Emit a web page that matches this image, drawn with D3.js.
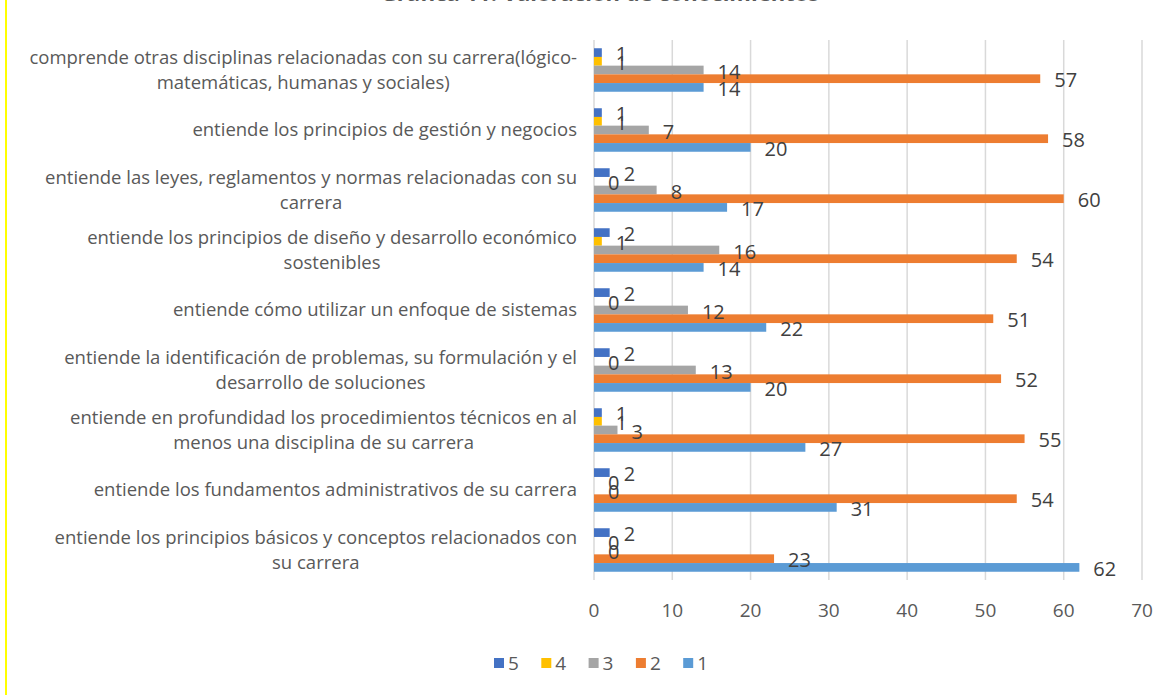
<!DOCTYPE html>
<html>
<head>
<meta charset="utf-8">
<script src="https://cdn.jsdelivr.net/npm/d3@7"></script>
<style>
  body { margin: 0; background: #fff; }
  svg { display: block; font-family: "Open Sans", "Noto Sans", sans-serif; }
</style>
</head>
<body>
<div id="chart"></div>
<script>
// Categories, top to bottom; "\n" marks the wrapped line
const categories = [
    "comprende otras disciplinas relacionadas con su carrera(lógico-\nmatemáticas, humanas y sociales)",
    "entiende los principios de gestión y negocios ",
    "entiende las leyes, reglamentos y normas relacionadas con su\ncarrera",
    "entiende los principios de diseño y desarrollo económico\nsostenibles",
    "entiende cómo utilizar un enfoque de sistemas ",
    "entiende la identificación de problemas, su formulación y el\ndesarrollo de soluciones",
    "entiende en profundidad los procedimientos técnicos en al\nmenos una disciplina de su carrera",
    "entiende los fundamentos administrativos de su carrera ",
    "entiende los principios básicos y conceptos relacionados con\nsu carrera"
];

// Series, in the order drawn inside each group (top to bottom)
const seriesNames = ["5", "4", "3", "2", "1"];
const seriesColors = ["#4472C4", "#FFC000", "#A5A5A5", "#ED7D31", "#5B9BD5"];

const values5 = [1, 1, 2, 2, 2, 2, 1, 2, 2];
const values4 = [1, 1, 0, 1, 0, 0, 1, 0, 0];
const values3 = [14, 7, 8, 16, 12, 13, 3, 0, 0];
const values2 = [57, 58, 60, 54, 51, 52, 55, 54, 23];
const values1 = [14, 20, 17, 14, 22, 20, 27, 31, 62];
const seriesValues = [values5, values4, values3, values2, values1];

const xTicks = [0, 10, 20, 30, 40, 50, 60, 70];
const title = "Gráfica 11. Valoración de conocimientos";

const width = 1173, height = 695;
const plot = { left: 594, right: 1142, top: 40, bottom: 580 };

const svg = d3.select("#chart").append("svg")
    .attr("width", width)
    .attr("height", height);

// yellow frame edge on the left
svg.append("rect")
    .attr("x", 5).attr("y", 0)
    .attr("width", 2).attr("height", height)
    .attr("fill", "#FFFF00");

// title, mostly cut off by the top edge
svg.append("text")
    .attr("x", 600).attr("y", 0.5)
    .attr("text-anchor", "middle")
    .style("font-size", "22px")
    .style("font-weight", "bold")
    .style("fill", "#595959")
    .text(title);

const x = d3.scaleLinear()
    .domain([0, 70])
    .range([plot.left, plot.right]);

const y = d3.scaleBand()
    .domain(d3.range(categories.length))
    .range([plot.top, plot.bottom])
    .paddingInner(0.275)
    .paddingOuter(0.1375);

const ySeries = d3.scaleBand()
    .domain(d3.range(seriesNames.length))
    .range([0, y.bandwidth()]);

// gridlines
svg.append("g")
    .selectAll("line")
    .data(xTicks)
    .join("line")
    .attr("x1", d => x(d)).attr("x2", d => x(d))
    .attr("y1", plot.top).attr("y2", plot.bottom)
    .attr("stroke", "#D9D9D9")
    .attr("stroke-width", 1.5);

// x tick labels
svg.append("g")
    .selectAll("text")
    .data(xTicks)
    .join("text")
    .attr("x", d => x(d))
    .attr("y", 617)
    .attr("text-anchor", "middle")
    .style("font-size", "19px")
    .style("fill", "#595959")
    .text(d => d);

// bars
const groups = svg.append("g")
    .selectAll("g")
    .data(seriesNames)
    .join("g")
    .attr("fill", (d, i) => seriesColors[i]);

groups.each(function (name, si) {
    d3.select(this).selectAll("rect")
        .data(seriesValues[si])
        .join("rect")
        .attr("x", x(0))
        .attr("y", (v, ci) => y(ci) + ySeries(si))
        .attr("width", v => x(v) - x(0))
        .attr("height", ySeries.bandwidth());
});

// data labels
const labels = svg.append("g");
seriesNames.forEach((name, si) => {
    labels.selectAll(null)
        .data(seriesValues[si])
        .join("text")
        .attr("x", v => x(v) + 14)
        .attr("y", (v, ci) => y(ci) + ySeries(si) + ySeries.bandwidth() / 2 + 1.5)
        .attr("dy", "0.35em")
        .style("font-size", "20px")
        .style("fill", "#404040")
        .text(v => v);
});

// category labels: block right-aligned to the axis, lines centred in the block
const labelRight = 577;
const lineHeight = 25;
const catG = svg.append("g")
    .style("font-size", "18.5px")
    .style("fill", "#595959")
    .style("white-space", "pre");

categories.forEach((label, ci) => {
    const lines = label.split("\n");
    const t = catG.append("text").attr("text-anchor", "middle");
    const cy = y(ci) + y.bandwidth() / 2;
    const spans = lines.map((line, li) => t.append("tspan")
        .attr("y", cy + (li - (lines.length - 1) / 2) * lineHeight)
        .attr("dy", "0.35em")
        .text(line));
    const maxW = d3.max(spans, s => s.node().getComputedTextLength());
    spans.forEach(s => s.attr("x", labelRight - maxW / 2));
});

// legend
const legend = svg.append("g")
    .attr("transform", "translate(494, 658)");

legend.selectAll("g")
    .data(seriesNames)
    .join("g")
    .attr("transform", (d, i) => `translate(${i * 47.3}, 0)`)
    .call(g => {
        g.append("rect")
            .attr("width", 10)
            .attr("height", 10)
            .attr("fill", (d, i) => seriesColors[i]);
        g.append("text")
            .attr("x", 14)
            .attr("y", 5)
            .attr("dy", "0.35em")
            .style("font-size", "19px")
            .style("fill", "#595959")
            .text(d => d);
    });
</script>
</body>
</html>
